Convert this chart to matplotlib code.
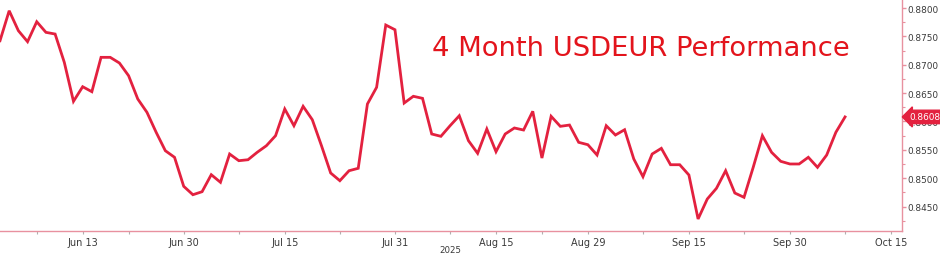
import numpy as np
import pandas as pd
import matplotlib
matplotlib.use("Agg")
import matplotlib.pyplot as plt
from matplotlib.ticker import FixedLocator, MultipleLocator, FormatStrFormatter

# ---- data ----
start_date = "2025-06-02"
end_date = "2025-10-08"
usdeur = [
    0.87424, 0.87953, 0.87601, 0.87407, 0.87759, 0.87572, 0.87542, 0.87043, 0.86355, 0.86613,
    0.86525, 0.87131, 0.87131, 0.87031, 0.86807, 0.86396, 0.86161, 0.85809, 0.85484, 0.85368,
    0.84856, 0.84708, 0.84761, 0.85061, 0.84927, 0.85426, 0.85308, 0.85325, 0.85456, 0.85572,
    0.85749, 0.86220, 0.85925, 0.86267, 0.86031, 0.85572, 0.85091, 0.84955, 0.85131, 0.85174,
    0.86308, 0.86602, 0.87701, 0.87618, 0.86325, 0.86444, 0.86408, 0.85779, 0.85738, 0.85925,
    0.86101, 0.85661, 0.85438, 0.85867, 0.85467, 0.85779, 0.85885, 0.85849, 0.86179, 0.85355,
    0.86091, 0.85914, 0.85937, 0.85632, 0.85590, 0.85408, 0.85925, 0.85761, 0.85854, 0.85338,
    0.85026, 0.85426, 0.85526, 0.85237, 0.85237, 0.85056, 0.84280, 0.84632, 0.84821, 0.85131,
    0.84738, 0.84662, 0.85191, 0.85749, 0.85456, 0.85297, 0.85250, 0.85250, 0.85368, 0.85191,
    0.85408, 0.85809, 0.86080,
]
major_dates = ["2025-06-13", "2025-06-30", "2025-07-15", "2025-07-31", "2025-08-15",
               "2025-08-29", "2025-09-15", "2025-09-30", "2025-10-15"]
major_labels = ["Jun 13", "Jun 30", "Jul 15", "Jul 31", "Aug 15",
                "Aug 29", "Sep 15", "Sep 30", "Oct 15"]
minor_dates = ["2025-06-06", "2025-06-20", "2025-07-08", "2025-07-23", "2025-08-08",
               "2025-08-22", "2025-09-08", "2025-09-23", "2025-10-08"]
title = "4 Month USDEUR Performance"
year_label = "2025"
last_label = "0.8608"

dates = pd.bdate_range(start_date, end_date)
x = np.arange(len(dates))
major_pos = np.busday_count(start_date, major_dates)
minor_pos = np.busday_count(start_date, minor_dates)

# ---- styling ----
LINE = "#e3213f"
PINK = "#e8919f"
TXT = "#3a3a3a"

fig = plt.figure(figsize=(9.4, 2.55), dpi=100)
ax = fig.add_axes([0.0, 23 / 255, 902 / 940, 232 / 255])

ax.plot(x, usdeur, color=LINE, lw=2.0, solid_joinstyle="miter", clip_on=False)

ax.set_xlim(0, 98.2)
ax.set_ylim(0.84068, 0.88160)

for s in ["top", "left"]:
    ax.spines[s].set_visible(False)
for s in ["bottom", "right"]:
    ax.spines[s].set_color(PINK)
    ax.spines[s].set_linewidth(1.0)

ax.yaxis.tick_right()
ax.yaxis.set_major_locator(MultipleLocator(0.005))
ax.yaxis.set_minor_locator(MultipleLocator(0.0025))
ax.yaxis.set_major_formatter(FormatStrFormatter("%.4f"))
ax.tick_params(axis="y", which="major", length=3, width=1, color=PINK,
               labelsize=6.4, labelcolor=TXT, pad=1.0)
ax.tick_params(axis="y", which="minor", length=2, width=0.8, color=PINK)

ax.xaxis.set_major_locator(FixedLocator(major_pos))
ax.xaxis.set_minor_locator(FixedLocator(minor_pos))
ax.set_xticklabels(major_labels)
ax.tick_params(axis="x", which="both", length=2, width=0.8, color="#b0b0b0",
               labelsize=7, labelcolor=TXT, pad=2.5)

# year label
ax.text(0.499, -0.078, year_label, transform=ax.transAxes,
        fontsize=6.2, color=TXT, ha="center", va="center")

# last value tag
ax.annotate(last_label, xy=(1.0, usdeur[-1]), xycoords=("axes fraction", "data"),
            xytext=(5.5, 0), textcoords="offset points", ha="left", va="center",
            fontsize=6.4, color="white",
            bbox=dict(boxstyle="larrow,pad=0.25", fc=LINE, ec=LINE))

ax.text(0.479, 0.79, title, transform=ax.transAxes, fontsize=19.7,
        color="#e3141c", ha="left", va="center")

fig.savefig("out.png", dpi=100, facecolor="white")
